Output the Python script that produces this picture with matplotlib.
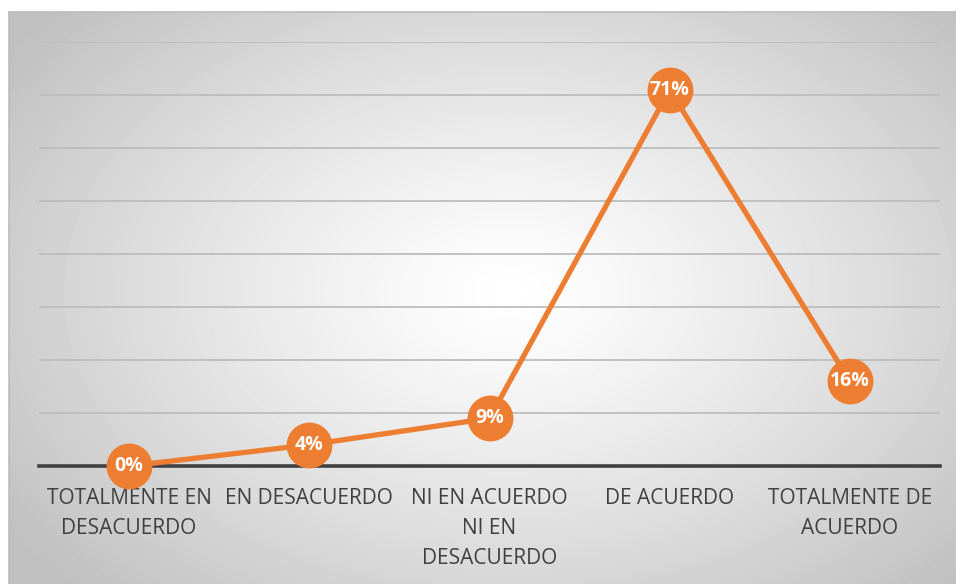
import numpy as np
import matplotlib.pyplot as plt

categorias = ['TOTALMENTE EN\nDESACUERDO', 'EN DESACUERDO', 'NI EN ACUERDO\nNI EN\nDESACUERDO',
              'DE ACUERDO', 'TOTALMENTE DE\nACUERDO']
porcentajes = [0, 4, 9, 71, 16]
etiquetas = ['0%', '4%', '9%', '71%', '16%']

W, H = 956, 584
fig = plt.figure(figsize=(W / 100, H / 100), dpi=100)
fig.patch.set_facecolor('white')

# Fondo del gráfico con degradado radial
bg = fig.add_axes([9 / W, 0, (W - 9) / W, (H - 12) / H], zorder=0)
yy, xx = np.mgrid[0:572, 0:947]
cx, cy = 500, 280
d = np.sqrt(((xx - cx) / 620) ** 2 + ((yy - cy) / 420) ** 2)
g = 1.0 - 0.25 * np.clip(d, 0, 1) ** 1.2
bg.imshow(g, cmap='gray', vmin=0, vmax=1, aspect='auto', interpolation='bilinear')
bg.set_axis_off()
# borde superior e izquierdo del área del gráfico
fig.add_artist(plt.Line2D([9 / W, 1], [1 - 12 / H, 1 - 12 / H], color='#bcbcbc', lw=1.2))
fig.add_artist(plt.Line2D([9 / W, 9 / W], [0, 1 - 12 / H], color='#bcbcbc', lw=1.2))

ax = fig.add_axes([39 / W, (H - 466) / H, (940 - 39) / W, (466 - 42) / H], zorder=1)
ax.patch.set_alpha(0)
x = np.arange(len(categorias))
ax.set_xlim(-0.5, len(categorias) - 0.5)
ax.set_ylim(0, 80)
ax.set_yticks(np.arange(0, 81, 10))
ax.yaxis.grid(True, color='#bdbdbd', lw=1.3)
ax.set_axisbelow(True)
ax.tick_params(axis='y', left=False, labelleft=False)
for s in ['top', 'right', 'left']:
    ax.spines[s].set_visible(False)
ax.spines['bottom'].set_color('#404040')
ax.spines['bottom'].set_linewidth(2.6)

ax.plot(x, porcentajes, color='#ED7D31', lw=3.8, marker='o', markersize=33,
        markeredgewidth=0, zorder=3, clip_on=False)
for xi, yi, t in zip(x, porcentajes, etiquetas):
    ax.text(xi, yi, t, ha='center', va='center', color='white', fontsize=14,
            fontweight='bold', family='Open Sans', zorder=4)

ax.set_xticks(x)
ax.set_xticklabels(categorias, fontsize=15, color='#404040', family='Open Sans',
                   linespacing=1.55, va='top')
ax.tick_params(axis='x', length=0, pad=16)

fig.savefig('out.png', dpi=100)
